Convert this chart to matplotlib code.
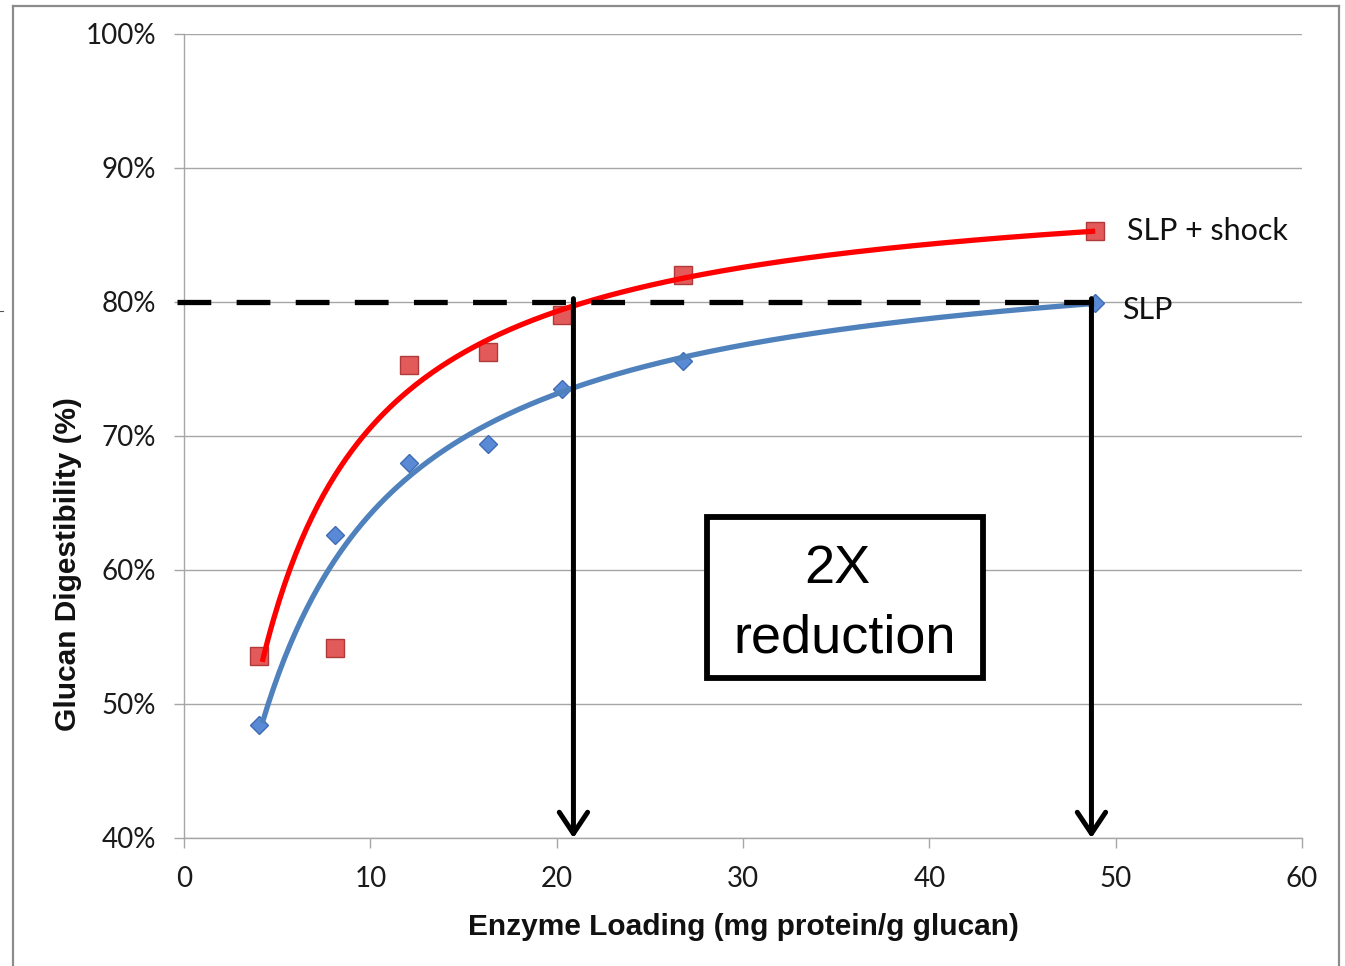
import numpy as np
import matplotlib
matplotlib.use("Agg")
import matplotlib.pyplot as plt
from matplotlib.lines import Line2D
from matplotlib.patches import Rectangle
from matplotlib.ticker import FuncFormatter

# Enzyme loading (mg protein / g glucan)
loading = [4.0, 8.1, 12.1, 16.3, 20.3, 26.8, 48.9]
# Glucan digestibility (%)
slp = [48.4, 62.6, 68.0, 69.4, 73.5, 75.6, 79.9]
slp_shock = [53.6, 54.2, 75.3, 76.3, 79.0, 82.0, 85.3]

# Saturation trend curves y = y0 + A * x / (K + x): (y0, A, K)
slp_fit = (6.73, 78.7, 3.7)
slp_shock_fit = (-17.01, 106.9, 2.2)
fit_range = (4.2, 48.9)

target_level = 80.0          # digestibility target (%)
arrow_x = [20.9, 48.7]       # loadings reaching the target

x_ticks = [0, 10, 20, 30, 40, 50, 60]
y_ticks = [40, 50, 60, 70, 80, 90, 100]


def trend(x, params):
    y0, a, k = params
    return y0 + a * x / (k + x)


W, H = 1345, 966
fig = plt.figure(figsize=(W / 100, H / 100), dpi=100)
fig.patch.set_facecolor("white")

# outer frame
frame_kw = dict(color="#8c8c8c", lw=1.6, transform=fig.transFigure)
fig.add_artist(Line2D([12.5 / W, 12.5 / W], [0, 1 - 5.5 / H], **frame_kw))
fig.add_artist(Line2D([12.5 / W, 1338.5 / W], [1 - 5.5 / H, 1 - 5.5 / H], **frame_kw))
fig.add_artist(Line2D([1338.5 / W, 1338.5 / W], [0, 1 - 5.5 / H], **frame_kw))
fig.add_artist(Line2D([0, 3 / W], [1 - 311 / H, 1 - 311 / H], color="#555555", lw=0.8,
                      transform=fig.transFigure))

ax = fig.add_axes([184 / W, 128 / H, 1118 / W, 804 / H])
ax.set_xlim(0, 60)
ax.set_ylim(40, 100)

grid_c = "#a6a6a6"
for s in ["top", "right"]:
    ax.spines[s].set_visible(False)
for s in ["left", "bottom"]:
    ax.spines[s].set_color(grid_c)
    ax.spines[s].set_linewidth(1.0)

ax.set_xticks(x_ticks)
ax.set_yticks(y_ticks)
ax.yaxis.set_major_formatter(FuncFormatter(lambda v, p: f"{v:.0f}%"))
ax.grid(axis="y", color=grid_c, lw=1.0, zorder=0)
ax.set_axisbelow(True)
ax.tick_params(axis="both", length=7, width=1.0, color=grid_c, labelsize=20,
               labelcolor="#1a1a1a")
ax.tick_params(axis="x", pad=13)
ax.tick_params(axis="y", pad=13)
for lab in ax.get_xticklabels() + ax.get_yticklabels():
    lab.set_family("Lato")

label_font = dict(family="Liberation Sans", fontweight="bold", fontsize=21.5,
                  color="#111111")
ax.set_xlabel("Enzyme Loading (mg protein/g glucan)", **label_font)
ax.xaxis.label.set_va("baseline")
ax.xaxis.set_label_coords(0.5, -97 / 804)
ax.set_ylabel("Glucan Digestibility (%)", **label_font)
ax.yaxis.label.set_va("baseline")
ax.yaxis.set_label_coords(-108 / 1118, 0.341)

# data points
ax.plot(loading, slp_shock, ls="none", marker="s", ms=13, mfc="#e35a5a",
        mec="#b03a3a", mew=1.0, zorder=3)
ax.plot(loading, slp, ls="none", marker="D", ms=9, mfc="#5a8ad6",
        mec="#3d6cb5", mew=1.0, zorder=3)

# trend curves
xf = np.linspace(fit_range[0], fit_range[1], 300)
ax.plot(xf, trend(xf, slp_shock_fit), color="#ff0000", lw=3.8, zorder=4,
        solid_capstyle="butt")
ax.plot(xf, trend(xf, slp_fit), color="#4f81bd", lw=3.8, zorder=4,
        solid_capstyle="butt")

# target line and arrows
ax.plot([-0.38, arrow_x[1] + 0.1], [target_level, target_level], color="black",
        lw=3.8, dashes=(6.4, 4.8), dash_capstyle="butt", zorder=5, clip_on=False)
for xa in arrow_x:
    ax.annotate("", xy=(xa, 40), xytext=(xa, target_level + 0.25),
                arrowprops=dict(arrowstyle="->,head_length=0.45,head_width=0.3",
                                color="black", lw=3.6, shrinkA=0, shrinkB=0,
                                mutation_scale=34),
                zorder=6, annotation_clip=False)

# series names
ax.text(50.6, slp_shock[-1], "SLP + shock", family="Lato", fontsize=22,
        va="center", ha="left", color="#111111")
ax.text(50.34, 79.4, "SLP", family="Lato", fontsize=22,
        va="center", ha="left", color="#111111")

# annotation box
ax.add_patch(Rectangle((28.07, 51.94), 42.88 - 28.07, 63.96 - 51.94,
                       facecolor="white", edgecolor="black", lw=4.2, zorder=7))
ax.text(35.05, 59.03, "2X", family="Liberation Sans", fontsize=39,
        ha="center", va="baseline", zorder=8)
ax.text(35.47, 53.88, "reduction", family="Liberation Sans", fontsize=39,
        ha="center", va="baseline", zorder=8)

fig.savefig("out.png", dpi=100, facecolor="white")
